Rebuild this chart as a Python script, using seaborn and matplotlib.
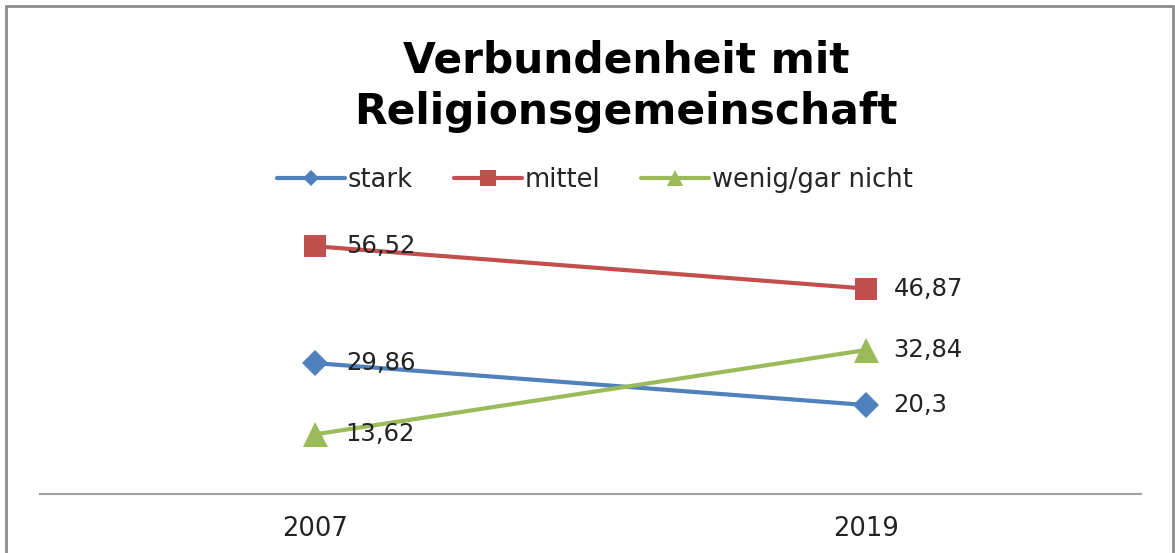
import pandas as pd
import matplotlib.pyplot as plt
import seaborn as sns
from matplotlib.lines import Line2D
from matplotlib.patches import Rectangle

years = ["2007", "2019"]
stark = [29.86, 20.3]
mittel = [56.52, 46.87]
wenig = [13.62, 32.84]
series_names = ["stark", "mittel", "wenig/gar nicht"]
labels_2007 = ["29,86", "56,52", "13,62"]
labels_2019 = ["20,3", "46,87", "32,84"]

colors = ["#4F81BD", "#C0504D", "#9BBB59"]
markers = ["D", "s", "^"]
msizes = [13, 16, 18]

rows = []
for name, vals in zip(series_names, [stark, mittel, wenig]):
    for i, v in enumerate(vals):
        rows.append({"pos": i, "Jahr": years[i], "Serie": name, "Wert": v})
df = pd.DataFrame(rows)

sns.set_style("white")
plt.rcParams["font.family"] = ["DejaVu Sans"]

W, H = 1175, 553
fig = plt.figure(figsize=(W / 100, H / 100), dpi=100)
ax = fig.add_axes([40 / W, 1 - 494 / H, 1101 / W, (494 - 231) / H])

sns.lineplot(data=df, x="pos", y="Wert", hue="Serie", style="Serie",
             palette=colors, markers=markers, dashes=False,
             linewidth=3, markeredgewidth=0, legend=False, ax=ax)
for line, ms in zip(ax.lines, msizes):
    line.set_markersize(ms)

ax.set_xlim(-0.5, 1.5)
ax.set_ylim(0, 60)
ax.set_xticks([0, 1])
ax.set_xticklabels(years, fontsize=18.5, color="#222222")
ax.tick_params(axis="x", length=0, pad=16)
ax.set_yticks([])
ax.set_xlabel("")
ax.set_ylabel("")
for s in ["top", "left", "right"]:
    ax.spines[s].set_visible(False)
ax.spines["bottom"].set_color("#A0A0A0")
ax.spines["bottom"].set_linewidth(1.5)

# data labels
for vals, l0, l1 in zip([stark, mittel, wenig], labels_2007, labels_2019):
    ax.annotate(l0, (0, vals[0]), xytext=(22, 0), textcoords="offset points",
                va="center", ha="left", fontsize=17.5, color="#222222")
    ax.annotate(l1, (1, vals[1]), xytext=(20, 0), textcoords="offset points",
                va="center", ha="left", fontsize=17.5, color="#222222")

fig.text(626 / W, 1 - 86 / H, "Verbundenheit mit\nReligionsgemeinschaft",
         ha="center", va="center", fontsize=30.5, fontweight="bold",
         linespacing=1.3, color="black")

handles = [Line2D([0], [0], color=c, marker=m, lw=3, markersize=s,
                  markeredgewidth=0)
           for c, m, s in zip(colors, markers, [8, 11, 12])]
fig.legend(handles, series_names, loc="center", ncol=3,
           bbox_to_anchor=(595 / W, 1 - 180 / H), frameon=False,
           fontsize=18.5, handlelength=2.65, handletextpad=0.1,
           columnspacing=1.6)

fig.patches.append(Rectangle((6 / W, -0.1), 1167 / W, 1.1 - 6 / H,
                             transform=fig.transFigure, fill=False,
                             edgecolor="#8C8C8C", linewidth=2))

fig.savefig("out.png", dpi=100)
